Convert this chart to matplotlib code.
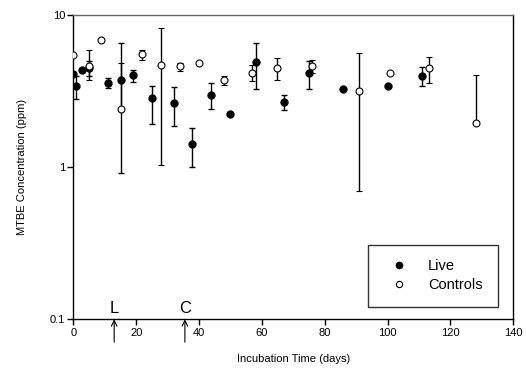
import numpy as np
import matplotlib
matplotlib.use("Agg")
import matplotlib.pyplot as plt
from matplotlib.lines import Line2D
from matplotlib.ticker import FixedLocator, NullLocator, FixedFormatter

plt.rcParams['font.family'] = ['Liberation Sans', 'DejaVu Sans']

# Live samples: day, mean, lower bound, upper bound (NaN = no bar)
live_day = [0, 0.9, 2.9, 4.9, 11.1, 15.1, 19.0, 25.0, 32.0, 37.9, 43.8, 49.9, 58.0, 66.9, 74.9, 85.9, 100.0, 110.9]
live_val = [4.07, 3.40, 4.33, 4.48, 3.59, 3.76, 4.01, 2.84, 2.65, 1.41, 2.96, 2.24, 4.91, 2.69, 4.18, 3.24, 3.43, 3.97]
live_low = [np.nan, 2.79, np.nan, 3.98, 3.33, 0.91, 3.64, 1.93, 1.86, 1.01, 2.41, np.nan, 3.28, 2.37, 3.24, np.nan, np.nan, 3.43]
live_high = [np.nan, 4.0, np.nan, 5.0, 3.85, 6.54, 4.33, 3.44, 3.36, 1.81, 3.58, np.nan, 6.55, 2.99, 5.0, np.nan, np.nan, 4.53]

# Controls
ctrl_day = [0, 4.9, 8.8, 15.1, 22.0, 28.0, 34.1, 40.0, 48.0, 56.9, 64.8, 76.0, 90.9, 100.9, 113.2, 128.0]
ctrl_val = [5.49, 4.65, 6.85, 2.42, 5.51, 4.67, 4.60, 4.86, 3.72, 4.18, 4.48, 4.62, 3.18, 4.15, 4.48, 1.96]
ctrl_low = [np.nan, 3.74, np.nan, 2.42, 5.1, 1.03, 4.28, np.nan, 3.46, 3.66, 3.72, 4.13, 0.695, np.nan, 3.55, 1.96]
ctrl_high = [np.nan, 5.9, np.nan, 4.83, 5.9, 8.27, 4.86, np.nan, 3.97, 4.66, 5.18, 5.03, 5.66, np.nan, 5.26, 4.01]

x_ticks = [0, 20, 40, 60, 80, 100, 120, 140]
y_ticks = [0.1, 1, 10]
y_tick_labels = ["0.1", "1", "10"]
events = [("L", 13.0), ("C", 35.5)]


def yerr(val, low, high):
    v = np.array(val, float)
    lo = np.array(low, float)
    hi = np.array(high, float)
    lo = np.where(np.isnan(lo), v, lo)
    hi = np.where(np.isnan(hi), v, hi)
    return np.vstack([v - lo, hi - v])


fig = plt.figure(figsize=(5.26, 3.81), dpi=100)
ax = fig.add_axes([0.1394, 0.1619, 0.8365, 0.7987])

ax.errorbar(live_day, live_val, yerr=yerr(live_val, live_low, live_high), fmt='o',
            color='black', mfc='black', mec='black', ms=5, elinewidth=1,
            capsize=2.5, capthick=1, zorder=3)
ax.errorbar(ctrl_day, ctrl_val, yerr=yerr(ctrl_val, ctrl_low, ctrl_high), fmt='o',
            color='black', mfc='white', mec='black', ms=5, mew=0.8, elinewidth=1,
            capsize=2.5, capthick=1, zorder=4)

ax.set_yscale('log')
ax.set_ylim(0.1, 10)
ax.set_xlim(0, 140)
ax.yaxis.set_major_locator(FixedLocator(y_ticks))
ax.yaxis.set_major_formatter(FixedFormatter(y_tick_labels))
ax.yaxis.set_minor_locator(NullLocator())
ax.set_xticks(x_ticks)
ax.tick_params(direction='out', length=4, width=1, labelsize=8, pad=2)

for s in ['left', 'bottom', 'right']:
    ax.spines[s].set_linewidth(1)
    ax.spines[s].set_color('black')
ax.spines['top'].set_color('#666666')
ax.spines['top'].set_linewidth(1)

ax.set_xlabel('Incubation Time (days)', fontsize=8, labelpad=12)
ax.set_ylabel('MTBE Concentration (ppm)', fontsize=8, labelpad=16)

for lab, d in events:
    ax.annotate('', xy=(d, 0.1), xycoords='data',
                xytext=(d, -0.075), textcoords=('data', 'axes fraction'),
                arrowprops=dict(arrowstyle='->', color='black', lw=0.8,
                                shrinkA=0, shrinkB=0), annotation_clip=False)
    ax.text(d, 0.1 * 1.05, lab, ha='center', va='bottom', fontsize=12)

handles = [Line2D([], [], ls='none', marker='o', ms=4.5, mfc='black', mec='black'),
           Line2D([], [], ls='none', marker='o', ms=4.5, mfc='white', mec='black', mew=0.8)]
leg = ax.legend(handles, ['Live', 'Controls'], loc='lower left',
                bbox_to_anchor=(0.670, 0.041, 0.296, 0.217),
                mode='expand', fontsize=10.5, frameon=True, fancybox=False,
                edgecolor='black', borderpad=1.0, handletextpad=0.9,
                handlelength=2.2, labelspacing=0.35, borderaxespad=0)
leg.get_frame().set_linewidth(1)

fig.savefig('out.png', dpi=100)
